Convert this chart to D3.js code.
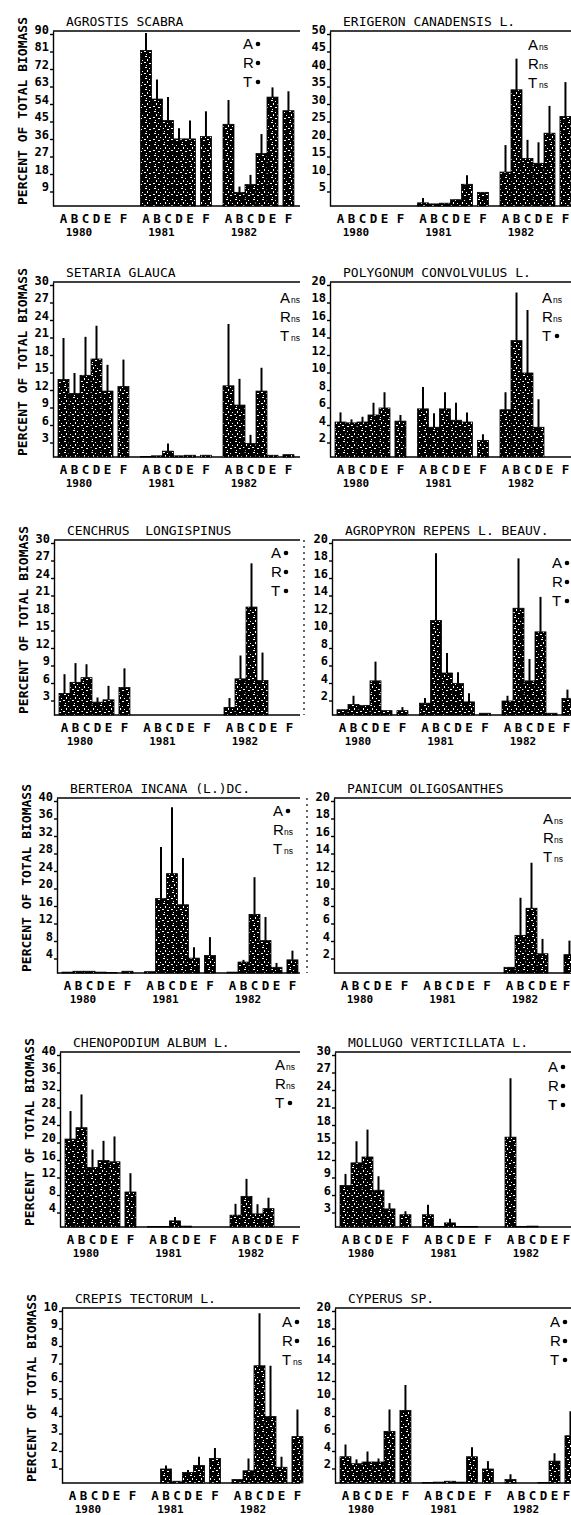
<!DOCTYPE html>
<html>
<head>
<meta charset="utf-8">
<script src="https://cdnjs.cloudflare.com/ajax/libs/d3/7.8.5/d3.min.js"></script>
<style>
    body { margin: 0; background: #fff; }
    svg text { font-family: "DejaVu Sans Mono", monospace; font-weight: bold; fill: #000; }
    svg text.legend { font-family: "Liberation Sans", Arial, sans-serif; font-weight: normal; }
    svg text.title { font-weight: normal; }
</style>
</head>
<body>
<svg id="fig" width="571" height="1515"></svg>
<script>
    var years = ["1980", "1981", "1982"];
    var plots = ["A", "B", "C", "D", "E", "F"];

    var titles = ["AGROSTIS SCABRA", "ERIGERON CANADENSIS L.", "SETARIA GLAUCA", "POLYGONUM CONVOLVULUS L.",
        "CENCHRUS  LONGISPINUS", "AGROPYRON REPENS L. BEAUV.", "BERTEROA INCANA (L.)DC.", "PANICUM OLIGOSANTHES",
        "CHENOPODIUM ALBUM L.", "MOLLUGO VERTICILLATA L.", "CREPIS TECTORUM L.", "CYPERUS SP."];
    var yMax = [90, 50, 30, 20, 30, 20, 40, 20, 40, 30, 10, 20];
    var yStep = [9, 5, 3, 2, 3, 2, 4, 2, 4, 3, 1, 2];

    // significance of A, R, T effects
    var sigA = ["•", "ns", "ns", "ns", "•", "•", "•", "ns", "ns", "•", "•", "•"];
    var sigR = ["•", "ns", "ns", "ns", "•", "•", "ns", "ns", "ns", "•", "•", "•"];
    var sigT = ["•", "ns", "ns", "•", "•", "•", "ns", "ns", "•", "•", "ns", "•"];

    // rows = 1980, 1981, 1982 ; columns = A B C D E F
    var agrostisMean = [[0, 0, 0, 0, 0, 0], [80, 55, 44, 34.5, 34.5, 35.7], [42, 7, 11, 27, 56, 49]];
    var agrostisSe = [[0, 0, 0, 0, 0, 0], [9, 10, 12, 5.5, 9.5, 13], [12.5, 3, 5, 10, 5, 10]];
    var erigeronMean = [[0, 0, 0, 0, 0, 0], [0.9, 0.6, 0.8, 1.8, 6.2, 3.9], [9.7, 33.2, 13.6, 12.2, 20.8, 25.6]];
    var erigeronSe = [[0, 0, 0, 0, 0, 0], [1.4, 0, 0, 0, 2.6, 0], [7.7, 8.9, 5.3, 6, 7.8, 9.8]];
    var setariaMean = [[13.3, 10.9, 14, 16.8, 11.3, 12.1], [0.1, 0.2, 1.0, 0.2, 0.3, 0.3], [12.2, 8.9, 2.3, 11.3, 0.3, 0.4]];
    var setariaSe = [[7.1, 3.5, 6.6, 5.7, 4.5, 4.6], [0, 0, 1.3, 0, 0, 0], [10.6, 4.5, 1.5, 4.0, 0, 0]];
    var polygonumMean = [[4.0, 3.9, 4.0, 4.8, 5.6, 4.1], [5.5, 3.4, 5.5, 4.2, 4.0, 1.9], [5.4, 13.3, 9.6, 3.4, 0, 0]];
    var polygonumSe = [[1.1, 0.4, 0.6, 1.4, 1.8, 0.7], [2.5, 1.6, 1.9, 2.0, 1.1, 0.7], [2.0, 5.5, 7.2, 3.2, 0, 0]];
    var cenchrusMean = [[3.7, 5.6, 6.4, 2.2, 2.6, 4.7], [0, 0, 0, 0, 0, 0], [1.3, 6.2, 18.5, 5.9, 0, 0]];
    var cenchrusSe = [[3.3, 3.3, 2.3, 0.8, 2.4, 3.3], [0, 0, 0, 0, 0, 0], [1.6, 4.0, 7.5, 4.8, 0, 0]];
    var agropyronMean = [[0.6, 1.2, 1.1, 3.9, 0.5, 0.5], [1.35, 10.8, 4.8, 3.6, 1.5, 0.2], [1.6, 12.2, 3.9, 9.5, 0.2, 1.9]];
    var agropyronSe = [[0, 1.0, 0, 2.2, 0, 0.4], [0.6, 7.7, 2.3, 1.3, 1.0, 0], [0.6, 5.7, 2.5, 4.0, 0, 1.0]];
    var berteroaMean = [[0.2, 0.4, 0.4, 0.2, 0.1, 0.4], [0.3, 17.0, 22.7, 15.6, 3.4, 4.0], [0.2, 2.5, 13.4, 7.4, 1.3, 3.0]];
    var berteroaSe = [[0, 0, 0, 0, 0, 0], [0, 11.8, 15.2, 10.7, 2.5, 4.2], [0, 0.5, 8.5, 5.4, 1.0, 2.1]];
    var panicumMean = [[0, 0, 0, 0, 0, 0], [0, 0, 0, 0, 0, 0], [0.65, 4.3, 7.4, 2.2, 0, 2.1]];
    var panicumSe = [[0, 0, 0, 0, 0, 0], [0, 0, 0, 0, 0, 0], [0, 4.3, 5.2, 1.7, 0, 1.6]];
    var chenopodiumMean = [[20.1, 22.7, 13.6, 15.2, 14.9, 8.0], [0.1, 0.1, 1.4, 0.2, 0, 0], [2.7, 7.0, 3.0, 4.2, 0, 0]];
    var chenopodiumSe = [[6.4, 7.6, 4.1, 4.5, 5.8, 4.3], [0, 0, 0.9, 0, 0, 0], [2.6, 4.0, 2.2, 2.5, 0, 0]];
    var mollugoMean = [[7.1, 11, 12, 6.3, 3.1, 2.1], [2.1, 0.1, 0.7, 0.1, 0.1, 0], [15.4, 0.1, 0.15, 0, 0, 0]];
    var mollugoSe = [[2.0, 3.7, 4.7, 2.4, 1.0, 0.6], [1.7, 0, 0.7, 0, 0, 0], [10.1, 0, 0, 0, 0, 0]];
    var crepisMean = [[0, 0, 0, 0, 0, 0], [0, 0.8, 0.1, 0.6, 1.0, 1.4], [0.2, 0.7, 6.7, 3.8, 0.9, 2.65]];
    var crepisSe = [[0, 0, 0, 0, 0, 0], [0, 0.2, 0, 0.15, 0.5, 0.6], [0, 0.7, 3.0, 2.9, 0.6, 1.55]];
    var cyperusMean = [[3.0, 2.2, 2.4, 2.4, 5.9, 8.3], [0.05, 0.1, 0.2, 0.1, 3.0, 1.6], [0.4, 0, 0, 0.05, 2.5, 5.4]];
    var cyperusSe = [[1.4, 0.5, 1.2, 0.4, 2.5, 2.9], [0, 0, 0, 0, 1.1, 0.9], [0.6, 0, 0, 0, 0.9, 2.8]];

    var means = [agrostisMean, erigeronMean, setariaMean, polygonumMean, cenchrusMean, agropyronMean,
        berteroaMean, panicumMean, chenopodiumMean, mollugoMean, crepisMean, cyperusMean];
    var ses = [agrostisSe, erigeronSe, setariaSe, polygonumSe, cenchrusSe, agropyronSe,
        berteroaSe, panicumSe, chenopodiumSe, mollugoSe, crepisSe, cyperusSe];

    // page layout (the scan drifts a little to the right going down)
    var rowTop = [31, 282, 540, 798, 1052, 1308];
    var rowShift = [[0, 0, 1, 4, 7, 9], [0, 0, 2, 4, 5, 5]];
    var colAxis = [53, 330];
    var plotH = 175;
    var legendPos = [[243, 13], [528, 14], [280, 16], [542, 16], [271, 13], [552, 23],
        [273, 13], [543, 21], [275, 13], [548, 15], [282, 14], [550, 14]];

    var letterSlot = {A: 0, B: 1, C: 2, D: 3, E: 4, F: 5.45};
    var yearSlots = 7.5;
    var barW = 11;

    var svg = d3.select("#fig");

    // black bar with white specks, like the old dot printer fill
    var pat = svg.append("defs").append("pattern")
        .attr("id", "speck").attr("patternUnits", "userSpaceOnUse")
        .attr("width", 9).attr("height", 11);
    pat.append("rect").attr("width", 9).attr("height", 11).attr("fill", "#000");
    [[1, 1, 2, 1], [5, 2, 1, 1], [3, 4, 1, 2], [7, 5, 1, 1], [0, 7, 2, 1], [5, 8, 2, 1], [2, 10, 1, 1]]
        .forEach(function (s) {
            pat.append("rect").attr("x", s[0]).attr("y", s[1]).attr("width", s[2]).attr("height", s[3]).attr("fill", "#fff");
        });

    function drawPanel(k) {
        var row = Math.floor(k / 2), col = k % 2;
        var shift = rowShift[col][row];
        var ax = colAxis[col] + shift;
        var top = rowTop[row], base = top + plotH;
        var right = col === 0 ? 300 : 571;

        var g = svg.append("g");

        var y = d3.scaleLinear().domain([0, yMax[k]]).range([base, top]);
        var slot = d3.scaleLinear().domain([0, 1]).range([ax + 5, ax + 5 + barW]);

        // frame: top line and baseline
        g.append("line").attr("x1", ax).attr("x2", right).attr("y1", top).attr("y2", top)
            .attr("stroke", "#000").attr("stroke-width", 1.6);
        g.append("line").attr("x1", ax).attr("x2", right).attr("y1", base).attr("y2", base)
            .attr("stroke", "#000").attr("stroke-width", 1.6);

        var ticks = d3.range(yStep[k], yMax[k] + yStep[k] / 2, yStep[k]);
        var yAxis = d3.axisLeft(y).tickValues(ticks).tickSize(3).tickSizeOuter(0).tickPadding(1)
            .tickFormat(function (d) { return d; });
        var axG = g.append("g").attr("transform", "translate(" + ax + ",0)").call(yAxis);
        axG.select(".domain").attr("stroke-width", 1.4);
        axG.selectAll(".tick line").attr("stroke-width", 1.4).attr("transform", "translate(0,3)");
        axG.selectAll(".tick text")
            .attr("font-family", "DejaVu Sans Mono").attr("font-weight", "bold")
            .attr("font-size", 12).attr("dy", "0.2em");

        if (col === 0) {
            g.append("text")
                .text("PERCENT OF TOTAL BIOMASS")
                .attr("font-size", 12.5)
                .attr("text-anchor", "middle")
                .attr("textLength", 188).attr("lengthAdjust", "spacingAndGlyphs")
                .attr("transform", "translate(" + (27 + shift) + "," + (base - 95) + ") rotate(-90)");
            if (row === 2 || row === 3) {
                g.append("line").attr("x1", 303 + shift).attr("x2", 303 + shift)
                    .attr("y1", top).attr("y2", base)
                    .attr("stroke", "#000").attr("stroke-width", 1.2).attr("stroke-dasharray", "2,4");
            }
        }

        g.append("text").attr("class", "title").text(titles[k])
            .attr("x", ax + 13).attr("y", top - 5)
            .attr("font-size", 13)
            .style("white-space", "pre");

        // bars and error lines
        years.forEach(function (yr, yi) {
            plots.forEach(function (p, pi) {
                var m = means[k][yi][pi], se = ses[k][yi][pi];
                var x0 = slot(yi * yearSlots + letterSlot[p]);
                if (m > 0) {
                    g.append("rect")
                        .attr("x", x0).attr("width", barW)
                        .attr("y", y(m)).attr("height", base - y(m))
                        .attr("fill", "url(#speck)")
                        .attr("stroke", "#000").attr("stroke-width", 0.8);
                }
                if (se > 0) {
                    g.append("line")
                        .attr("x1", x0 + barW / 2).attr("x2", x0 + barW / 2)
                        .attr("y1", y(m)).attr("y2", y(m + se))
                        .attr("stroke", "#000").attr("stroke-width", 2);
                }
                g.append("text").text(p)
                    .attr("x", Math.min(x0 + barW / 2, 566.5)).attr("y", base + 17)
                    .attr("text-anchor", "middle").attr("font-size", 12.5);
            });
            g.append("text").text(yr)
                .attr("x", slot(yi * yearSlots) + 21).attr("y", base + 30)
                .attr("text-anchor", "middle").attr("font-size", 11);
        });

        // A / R / T significance legend
        var sig = [sigA[k], sigR[k], sigT[k]];
        ["A", "R", "T"].forEach(function (lab, i) {
            var lx = legendPos[k][0], ly = top + legendPos[k][1] + i * 19;
            g.append("text").attr("class", "legend").text(lab)
                .attr("x", lx).attr("y", ly + 5)
                .attr("font-size", 15);
            if (sig[i] === "•") {
                g.append("circle").attr("cx", lx + 15).attr("cy", ly).attr("r", 2.3).attr("fill", "#000");
            } else {
                g.append("text").attr("class", "legend").text(sig[i])
                    .attr("x", lx + 11).attr("y", ly + 5)
                    .attr("font-size", 8.5);
            }
        });
    }

    for (var k = 0; k < titles.length; k++) {
        drawPanel(k);
    }
</script>
</body>
</html>
